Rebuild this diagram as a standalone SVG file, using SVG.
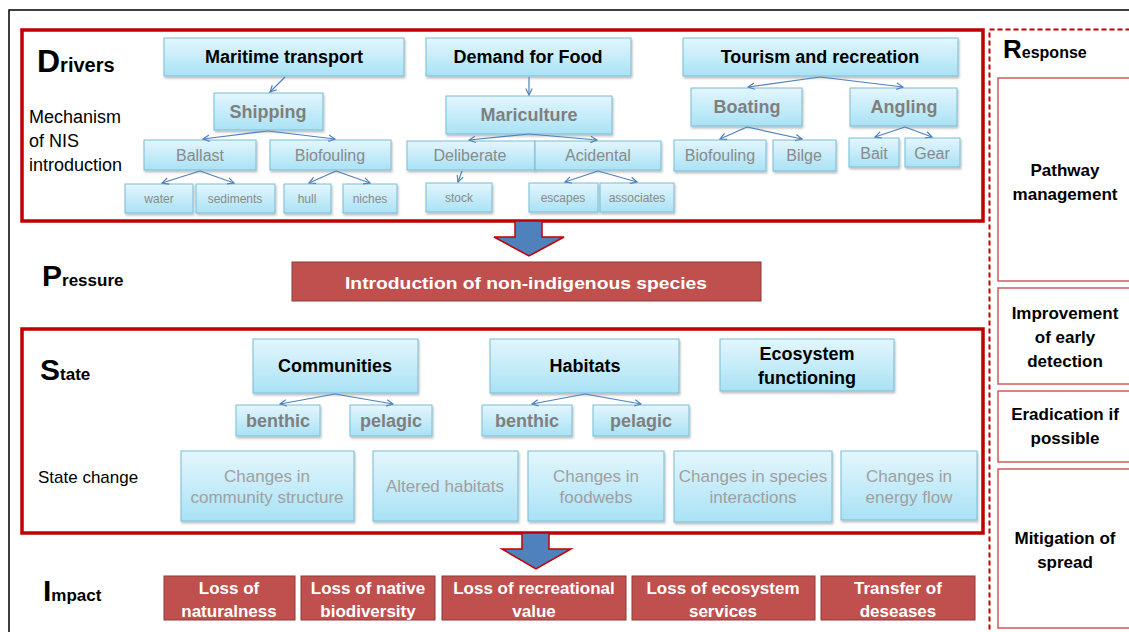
<svg xmlns="http://www.w3.org/2000/svg" width="1129" height="632" viewBox="0 0 1129 632">
<style>
text{font-family:"Liberation Sans",Arial,sans-serif}
.b{fill:url(#bg);stroke:#78bcd6;stroke-width:1;filter:url(#sh)}
.r{fill:#c0504d;stroke:#8c3a38;stroke-width:1}
.t1{font-size:18px;font-weight:bold;fill:#000;text-anchor:middle}
.t2{font-size:18px;font-weight:bold;fill:#7f7f7f;text-anchor:middle}
.t3{font-size:16px;fill:#8a8a8a;text-anchor:middle}
.t4{font-size:12px;fill:#8a8a8a;text-anchor:middle}
.t5{font-size:17px;fill:#a0a0a0;text-anchor:middle}
.tw{font-size:17px;font-weight:bold;fill:#fff;text-anchor:middle}
.tr{font-size:17px;font-weight:bold;fill:#000;text-anchor:middle}
.big{font-weight:bold;fill:#000}
.frame{fill:none;stroke:#c00000;stroke-width:3.5}
.resp{fill:#fff;stroke:#d05a5a;stroke-width:1.5}
.con line,.con path{stroke:#4f81bd;stroke-width:1.2;fill:none;marker-end:url(#ah)}
.arr{fill:#4f81bd;stroke:#c00000;stroke-width:1.5}
</style>
<defs>
<linearGradient id="bg" x1="0" y1="0" x2="0" y2="1">
<stop offset="0" stop-color="#e4f6fd"/>
<stop offset="1" stop-color="#a9e2f5"/>
</linearGradient>
<filter id="sh" x="-10%" y="-10%" width="130%" height="140%">
<feDropShadow dx="1" dy="2" stdDeviation="1.2" flood-color="#000" flood-opacity="0.25"/>
</filter>
<marker id="ah" viewBox="0 0 10 10" refX="9" refY="5" markerWidth="8" markerHeight="8" markerUnits="userSpaceOnUse" orient="auto">
<path d="M1,1 L9,5 L1,9" fill="none" stroke="#4f81bd" stroke-width="1.5"/>
</marker>
</defs>
<rect x="0" y="0" width="1129" height="632" fill="#fff"/>
<rect x="9" y="10" width="1140" height="660" fill="none" stroke="#000" stroke-width="1.5"/>

<g id="drivers">
<rect class="frame" x="22" y="30" width="961" height="191"/>
<text x="37" y="72" class="big"><tspan font-size="32">D</tspan><tspan font-size="20">rivers</tspan></text>
<text x="29" y="123" font-size="18">Mechanism</text>
<text x="29" y="147" font-size="18">of NIS</text>
<text x="29" y="171" font-size="18">introduction</text>
</g>

<g id="maritime"><rect class="b" x="164" y="38" width="240" height="38"/><text class="t1" x="284" y="63">Maritime transport</text></g>
<g id="food"><rect class="b" x="426" y="38" width="205" height="38"/><text class="t1" x="528" y="63">Demand for Food</text></g>
<g id="tourism"><rect class="b" x="683" y="38" width="275" height="38"/><text class="t1" x="820" y="63">Tourism and recreation</text></g>

<g id="shipping"><rect class="b" x="214" y="93" width="109" height="37"/><text class="t2" x="268" y="118">Shipping</text></g>
<g id="mariculture"><rect class="b" x="446" y="96" width="166" height="38"/><text class="t2" x="529" y="121">Mariculture</text></g>
<g id="boating"><rect class="b" x="691" y="88" width="111" height="38"/><text class="t2" x="747" y="113">Boating</text></g>
<g id="angling"><rect class="b" x="850" y="88" width="107" height="38"/><text class="t2" x="904" y="113">Angling</text></g>

<g id="ballast"><rect class="b" x="144" y="140" width="112" height="30"/><text class="t3" x="200" y="161">Ballast</text></g>
<g id="biofouling1"><rect class="b" x="270" y="140" width="121" height="30"/><text class="t3" x="330" y="161">Biofouling</text></g>
<g id="deliberate"><rect class="b" x="407" y="141" width="128" height="29"/><text class="t3" x="470" y="161">Deliberate</text></g>
<g id="acidental"><rect class="b" x="535" y="141" width="126" height="29"/><text class="t3" x="598" y="161">Acidental</text></g>
<g id="biofouling2"><rect class="b" x="674" y="140" width="92" height="31"/><text class="t3" x="720" y="161">Biofouling</text></g>
<g id="bilge"><rect class="b" x="773" y="140" width="63" height="31"/><text class="t3" x="804" y="161">Bilge</text></g>
<g id="bait"><rect class="b" x="849" y="138" width="50" height="29"/><text class="t3" x="874" y="159">Bait</text></g>
<g id="gear"><rect class="b" x="905" y="138" width="55" height="29"/><text class="t3" x="932" y="159">Gear</text></g>

<g id="water"><rect class="b" x="125" y="184" width="68" height="29"/><text class="t4" x="159" y="203">water</text></g>
<g id="sediments"><rect class="b" x="196" y="184" width="79" height="29"/><text class="t4" x="235" y="203">sediments</text></g>
<g id="hull"><rect class="b" x="284" y="184" width="47" height="29"/><text class="t4" x="307" y="203">hull</text></g>
<g id="niches"><rect class="b" x="343" y="184" width="54" height="29"/><text class="t4" x="370" y="203">niches</text></g>
<g id="stock"><rect class="b" x="426" y="183" width="66" height="29"/><text class="t4" x="459" y="202">stock</text></g>
<g id="escapes"><rect class="b" x="529" y="183" width="69" height="29"/><text class="t4" x="563" y="202">escapes</text></g>
<g id="associates"><rect class="b" x="600" y="183" width="74" height="29"/><text class="t4" x="637" y="202">associates</text></g>

<g id="arrow1"><polygon class="arr" points="515,221 542,221 542,237 564,237 529,256 494,237 515,237"/></g>
<g id="pressure">
<text x="42" y="286" class="big"><tspan font-size="30">P</tspan><tspan font-size="17">ressure</tspan></text>
<rect class="r" x="292" y="262" width="469" height="39"/>
<text class="tw" x="526" y="289" font-size="20" textLength="362" lengthAdjust="spacingAndGlyphs">Introduction of non-indigenous species</text>
</g>

<g id="state">
<rect class="frame" x="22" y="329" width="961" height="204"/>
<text x="40" y="380" class="big"><tspan font-size="30">S</tspan><tspan font-size="17">tate</tspan></text>
<text x="38" y="483" font-size="17">State change</text>
</g>
<g id="communities"><rect class="b" x="253" y="339" width="165" height="54"/><text class="t1" x="335" y="372">Communities</text></g>
<g id="habitats"><rect class="b" x="490" y="339" width="189" height="54"/><text class="t1" x="585" y="372">Habitats</text></g>
<g id="ecosystem"><rect class="b" x="720" y="339" width="174" height="52"/><text class="t1" x="807" y="360">Ecosystem</text><text class="t1" x="807" y="384">functioning</text></g>
<g id="benthic1"><rect class="b" x="236" y="405" width="84" height="31"/><text class="t2" x="278" y="427" font-size="16">benthic</text></g>
<g id="pelagic1"><rect class="b" x="350" y="405" width="82" height="31"/><text class="t2" x="391" y="427" font-size="16">pelagic</text></g>
<g id="benthic2"><rect class="b" x="482" y="405" width="90" height="31"/><text class="t2" x="527" y="427" font-size="16">benthic</text></g>
<g id="pelagic2"><rect class="b" x="593" y="405" width="96" height="31"/><text class="t2" x="641" y="427" font-size="16">pelagic</text></g>

<g id="sc1"><rect class="b" x="181" y="451" width="173" height="70"/><text class="t5" x="267" y="482">Changes in</text><text class="t5" x="267" y="503">community structure</text></g>
<g id="sc2"><rect class="b" x="373" y="451" width="145" height="70"/><text class="t5" x="445" y="492">Altered habitats</text></g>
<g id="sc3"><rect class="b" x="528" y="451" width="136" height="70"/><text class="t5" x="596" y="482">Changes in</text><text class="t5" x="596" y="503">foodwebs</text></g>
<g id="sc4"><rect class="b" x="674" y="451" width="158" height="71"/><text class="t5" x="753" y="482">Changes in species</text><text class="t5" x="753" y="503">interactions</text></g>
<g id="sc5"><rect class="b" x="841" y="451" width="136" height="69"/><text class="t5" x="909" y="482">Changes in</text><text class="t5" x="909" y="503">energy flow</text></g>

<g id="arrow2"><polygon class="arr" points="522,533 549,533 549,549 571,549 536,569 502,549 522,549"/></g>
<g id="impact">
<text x="43" y="601" class="big"><tspan font-size="30">I</tspan><tspan font-size="17">mpact</tspan></text>
</g>
<g id="i1"><rect class="r" x="164" y="576" width="131" height="44"/><text class="tw" x="229" y="594">Loss of</text><text class="tw" x="229" y="617">naturalness</text></g>
<g id="i2"><rect class="r" x="301" y="576" width="134" height="44"/><text class="tw" x="368" y="594">Loss of native</text><text class="tw" x="368" y="617">biodiversity</text></g>
<g id="i3"><rect class="r" x="442" y="576" width="184" height="44"/><text class="tw" x="534" y="594">Loss of recreational</text><text class="tw" x="534" y="617">value</text></g>
<g id="i4"><rect class="r" x="632" y="576" width="183" height="44"/><text class="tw" x="723" y="594">Loss of ecosystem</text><text class="tw" x="723" y="617">services</text></g>
<g id="i5"><rect class="r" x="821" y="576" width="154" height="44"/><text class="tw" x="898" y="594">Transfer of</text><text class="tw" x="898" y="617">deseases</text></g>

<g id="response">
<rect x="989.5" y="29.5" width="160" height="620" fill="none" stroke="#c00000" stroke-width="2" stroke-dasharray="5,3"/>
<text x="1003" y="58" class="big"><tspan font-size="26">R</tspan><tspan font-size="16">esponse</tspan></text>
</g>
<g id="r1"><rect class="resp" x="998" y="78" width="150" height="203" stroke="#c00000"/><text class="tr" x="1065" y="176">Pathway</text><text class="tr" x="1065" y="200">management</text></g>
<g id="r2"><rect class="resp" x="998" y="288" width="150" height="96"/><text class="tr" x="1065" y="319">Improvement</text><text class="tr" x="1065" y="343">of early</text><text class="tr" x="1065" y="367">detection</text></g>
<g id="r3"><rect class="resp" x="998" y="391" width="150" height="71"/><text class="tr" x="1065" y="420">Eradication if</text><text class="tr" x="1065" y="444">possible</text></g>
<g id="r4"><rect class="resp" x="998" y="469" width="150" height="159"/><text class="tr" x="1065" y="544">Mitigation of</text><text class="tr" x="1065" y="568">spread</text></g>

<g id="connectors" class="con">
<line x1="285" y1="77" x2="270" y2="92"/>
<path d="M268,131 L203,139"/>
<path d="M268,131 L335,139"/>
<path d="M200,171 L162,183"/>
<path d="M200,171 L234,183"/>
<path d="M336,171 L309,183"/>
<path d="M336,171 L370,183"/>
<line x1="529" y1="77" x2="529" y2="95"/>
<path d="M529,134 L469,140"/>
<path d="M529,134 L597,140"/>
<path d="M462,171 L458,182"/>
<path d="M598,171 L565,182"/>
<path d="M598,171 L637,182"/>
<path d="M820,77 L748,87"/>
<path d="M820,77 L903,87"/>
<path d="M747,127 L720,139"/>
<path d="M747,127 L802,139"/>
<path d="M905,127 L875,137"/>
<path d="M905,127 L932,137"/>
<path d="M335,394 L280,404"/>
<path d="M335,394 L393,404"/>
<path d="M585,394 L532,404"/>
<path d="M585,394 L641,404"/>
</g>
</svg>
